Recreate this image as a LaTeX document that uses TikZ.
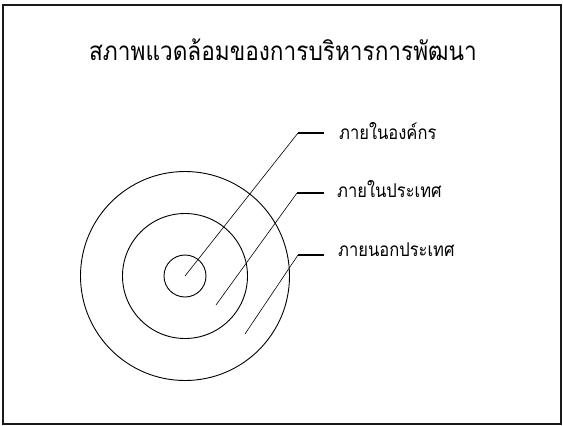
\documentclass[tikz,border=0pt]{standalone}
\usepackage{fontspec}
\newfontfamily\thaifont[Script=Thai,FakeStretch=0.87]{Loma}
\definecolor{framegray}{RGB}{25,25,25}

\begin{document}
\begin{tikzpicture}[x=1pt,y=-1pt,
  ring/.style={circle,draw=black,line width=0.9pt,inner sep=0pt},
  leader/.style={draw=black,line width=0.6pt},
  tick/.style={draw=black,line width=1.6pt},
  tag/.style={anchor=west,inner sep=0pt,font=\thaifont\fontsize{19}{22}\selectfont}]
  \useasboundingbox (0,0) rectangle (563,426);
  \draw[framegray,line width=2pt] (3,5) rectangle (561,424);
  \node[font=\thaifont\fontsize{26}{30}\selectfont] (title) at (283,50) {สภาพแวดล้อมของการบริหารการพัฒนา};
  \node[ring,minimum size=209pt] (outer) at (185,276) {};
  \node[ring,minimum size=125pt] (middle) at (185,276) {};
  \node[ring,minimum size=42pt] (inner) at (185,276) {};
  \coordinate (a1) at (185,276);
  \coordinate (b1) at (298,133);
  \coordinate (c1) at (324,133);
  \coordinate (a2) at (216,305);
  \coordinate (b2) at (297,193);
  \coordinate (c2) at (324,193);
  \coordinate (a3) at (245,334);
  \coordinate (b3) at (298,255);
  \coordinate (c3) at (324,255);
  \node[tag] (org) at (339,131) {ภายในองค์กร};
  \node[tag] (home) at (337,189) {ภายในประเทศ};
  \node[tag] (abroad) at (338,250) {ภายนอกประเทศ};
  \draw[leader] (a1) -- (b1);
  \draw[tick] (b1) -- (c1);
  \draw[leader] (a2) -- (b2);
  \draw[tick] (b2) -- (c2);
  \draw[leader] (a3) -- (b3);
  \draw[tick] (b3) -- (c3);
\end{tikzpicture}
\end{document}
